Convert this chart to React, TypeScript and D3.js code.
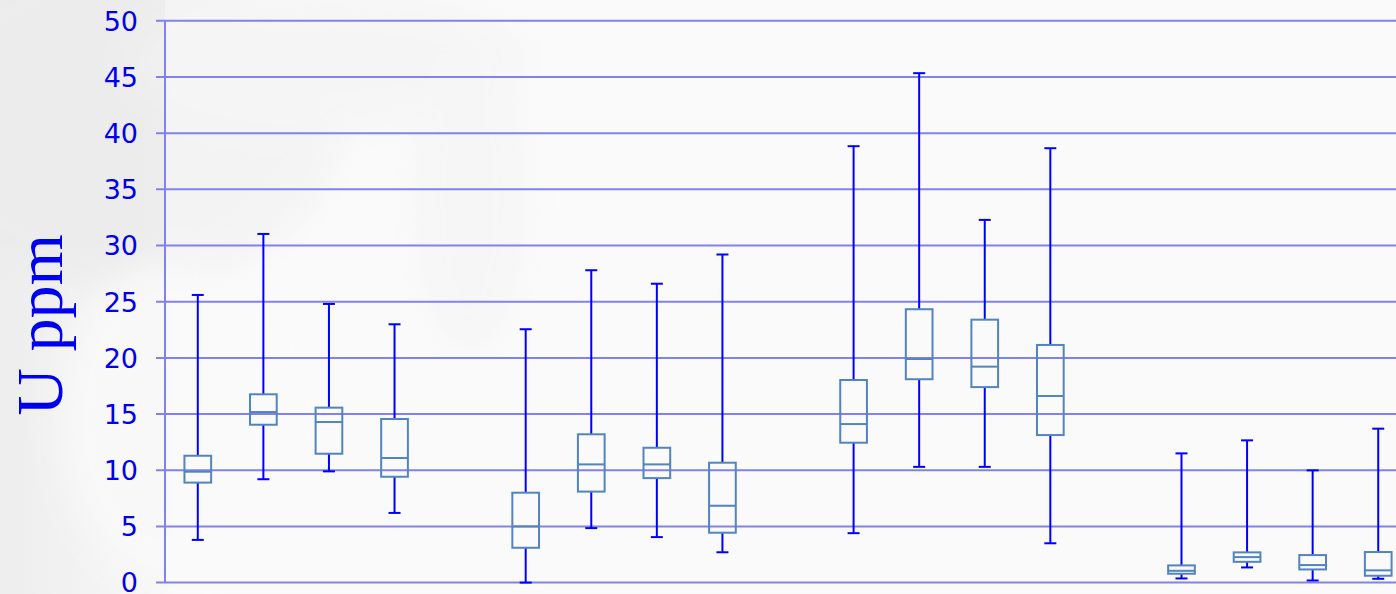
import React from "react";
import * as d3 from "d3";

// ---- data ----
const groups = ["G1", "G2", "G3", "G4"];
const members = ["a", "b", "c", "d"];
const categories = groups.flatMap((g) => members.map((m) => `${g}-${m}`));
const lowerWhisker = [3.8, 9.2, 9.9, 6.2, 0.0, 4.85, 4.05, 2.7, 4.4, 10.3, 10.3, 3.5, 0.37, 1.35, 0.19, 0.34];
const q1 = [8.9, 14.05, 11.47, 9.42, 3.1, 8.1, 9.3, 4.44, 12.45, 18.1, 17.4, 13.13, 0.79, 1.85, 1.17, 0.61];
const median = [9.87, 15.18, 14.29, 11.09, 5.0, 10.52, 10.52, 6.84, 14.11, 19.9, 19.22, 16.61, 1.05, 2.27, 1.56, 1.09];
const q3 = [11.29, 16.76, 15.57, 14.56, 8.0, 13.2, 12.0, 10.67, 18.03, 24.33, 23.4, 21.15, 1.53, 2.69, 2.45, 2.72];
const upperWhisker = [25.6, 31.03, 24.8, 22.99, 22.55, 27.8, 26.6, 29.2, 38.84, 45.34, 32.28, 38.66, 11.5, 12.66, 9.99, 13.7];
const yTicks = [0, 5, 10, 15, 20, 25, 30, 35, 40, 45, 50];
const yLabel = "U ppm";

// slots: each group of four followed by an empty spacer slot
const slotDomain = groups.flatMap((g) => [...members.map((m) => `${g}-${m}`), `${g}-gap`]).slice(0, 19);

const W = 1396;
const H = 594;

export default function App() {
  const x = d3.scaleBand<string>().domain(slotDomain).range([165, 165 + 19 * 65.58]).paddingInner(0).paddingOuter(0);
  const y = d3.scaleLinear().domain([0, 50]).range([582.6, 20.8]);
  const bw = x.bandwidth();
  const boxW = 26.7;
  const capW = 12;

  const gridColor = "#8282ee";
  const whiskerColor = "#0000ff";
  const boxColor = "#5284bf";
  const textColor = "#0000ee";

  return (
    <div style={{ position: "fixed", left: 0, top: 0, width: W, height: H, overflow: "hidden" }}>
      <svg width={W} height={H} style={{ display: "block" }}>
        <defs>
          <radialGradient id="bg1" cx="0.1" cy="0.15" r="0.6">
            <stop offset="0" stopColor="#e6e6e6" />
            <stop offset="1" stopColor="#f6f6f6" stopOpacity="0" />
          </radialGradient>
          <linearGradient id="bgL" x1="0" y1="0" x2="1" y2="0">
            <stop offset="0" stopColor="#ededed" />
            <stop offset="1" stopColor="#f8f8f8" />
          </linearGradient>
          <filter id="blur"><feGaussianBlur stdDeviation="18" /></filter>
        </defs>
        <rect x={0} y={0} width={W} height={H} fill="#fafafa" />
        <rect x={0} y={0} width={170} height={H} fill="url(#bgL)" />
        <g filter="url(#blur)" opacity={0.9}>
          <ellipse cx={120} cy={120} rx={220} ry={170} fill="#ececec" />
          <ellipse cx={330} cy={60} rx={200} ry={70} fill="#f1f1f1" />
          <ellipse cx={470} cy={200} rx={60} ry={160} fill="#f3f3f3" />
          <ellipse cx={170} cy={420} rx={110} ry={160} fill="#f9f9f9" />
        </g>
        <rect x={165} y={0} width={W - 165} height={H} fill="#fbfbfb" opacity={0.45} />

        {/* gridlines + ticks */}
        <g>
          {yTicks.map((t) => (
            <g key={t}>
              <line x1={156} x2={W} y1={y(t)} y2={y(t)} stroke={gridColor} strokeWidth={2} />
              <text
                x={138}
                y={y(t) + 9.8}
                textAnchor="end"
                fill={textColor}
                style={{ fontFamily: "'DejaVu Sans', Verdana, sans-serif", fontSize: 27 }}
              >
                {t}
              </text>
            </g>
          ))}
          <line x1={165} x2={165} y1={y(50)} y2={y(0)} stroke={gridColor} strokeWidth={2} />
        </g>

        {/* y label */}
        <text
          transform={`translate(62,325) rotate(-90)`}
          textAnchor="middle"
          fill={textColor}
          style={{ fontFamily: "'Liberation Serif', 'Times New Roman', serif", fontSize: 66 }}
        >
          {yLabel}
        </text>

        {/* boxes */}
        {categories.map((c, i) => {
          const cx = (x(c) ?? 0) + bw / 2;
          return (
            <g key={c}>
              <line x1={cx} x2={cx} y1={y(q3[i])} y2={y(upperWhisker[i])} stroke={whiskerColor} strokeWidth={2} />
              <line x1={cx} x2={cx} y1={y(q1[i])} y2={y(lowerWhisker[i])} stroke={whiskerColor} strokeWidth={2} />
              <line x1={cx - capW / 2} x2={cx + capW / 2} y1={y(upperWhisker[i])} y2={y(upperWhisker[i])} stroke={whiskerColor} strokeWidth={2} />
              <line x1={cx - capW / 2} x2={cx + capW / 2} y1={y(lowerWhisker[i])} y2={y(lowerWhisker[i])} stroke={whiskerColor} strokeWidth={2} />
              <rect
                x={cx - boxW / 2}
                y={y(q3[i])}
                width={boxW}
                height={y(q1[i]) - y(q3[i])}
                fill="none"
                stroke={boxColor}
                strokeWidth={2}
              />
              <line x1={cx - boxW / 2} x2={cx + boxW / 2} y1={y(median[i])} y2={y(median[i])} stroke={boxColor} strokeWidth={2} />
            </g>
          );
        })}
      </svg>
    </div>
  );
}
